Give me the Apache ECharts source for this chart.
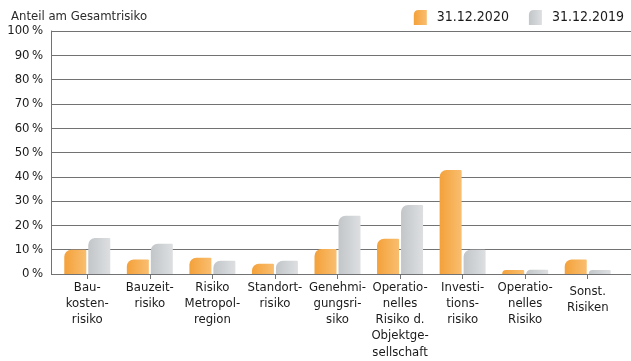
<!DOCTYPE html>
<html><head><meta charset="utf-8">
<script src="https://cdn.jsdelivr.net/npm/echarts@6/dist/echarts.min.js"></script>
<style>html,body{margin:0;padding:0;background:#fff}#c{width:631px;height:361px}</style>
</head><body><div id="c"></div>
<script>
const categories = ['Bau-\nkosten-\nrisiko','Bauzeit-\nrisiko','Risiko\nMetropol-\nregion','Standort-\nrisiko','Genehmi-\ngungsri-\nsiko','Operatio-\nnelles\nRisiko d.\nObjektge-\nsellschaft','Investi-\ntions-\nrisiko','Operatio-\nnelles\nRisiko','Sonst.\nRisiken'];
const values2020 = [10.0, 6.0, 6.7, 4.2, 10.3, 14.5, 42.8, 1.6, 6.0];
const values2019 = [14.8, 12.5, 5.5, 5.5, 24.0, 28.4, 10.0, 1.8, 1.6];
const seriesNames = ['31.12.2020','31.12.2019'];
const yTicks = {min:0, max:100, interval:10};
const titleText = 'Anteil am Gesamtrisiko';

const FONT = "'DejaVu Sans Condensed','Liberation Sans Narrow',sans-serif";
const TXT = '#1a1a1a';
const LINE = '#717274';
const orange = new echarts.graphic.LinearGradient(0,0,1,0,[{offset:0,color:'#F4A13A'},{offset:1,color:'#F9BE6F'}]);
const gray = new echarts.graphic.LinearGradient(0,0,1,0,[{offset:0,color:'#C2C6C9'},{offset:1,color:'#DDDFE1'}]);
const icon = 'path://M0,15 L0,5 Q0,0 5,0 L13,0 L13,15 Z';

const chart = echarts.init(document.getElementById('c'), null, {renderer:'canvas'});
chart.setOption({
  animation:false,
  textStyle:{fontFamily:FONT},
  title:{text:titleText,left:6,top:5,textStyle:{fontFamily:FONT,fontSize:13,fontWeight:'normal',color:'#2b2b2b'}},
  legend:{right:2,top:5,itemWidth:13,itemHeight:15,itemGap:20,icon:icon,
    textStyle:{fontFamily:FONT,fontSize:14,color:TXT,padding:[0,0,0,5]},
    data:seriesNames},
  grid:[
    {left:51,right:0,top:31,bottom:87},
    {left:56,right:12,top:31,bottom:87}
  ],
  xAxis:[
    {gridIndex:0,type:'value',show:false,min:0,max:1},
    {gridIndex:1,type:'category',data:categories,
      axisLine:{show:false},
      axisTick:{show:true,alignWithLabel:true,length:5,lineStyle:{color:LINE}},
      axisLabel:{interval:0,margin:5,fontFamily:FONT,fontSize:13,lineHeight:16.3,color:TXT,verticalAlign:'top',
        formatter:function(v){return v==='Sonst.\nRisiken' ? '{s|'+v.replace('\n','}\n{s|')+'}' : v;},
        rich:{s:{fontFamily:FONT,fontSize:13,lineHeight:16.3,color:TXT,padding:[8,0,0,0]}}}}
  ],
  yAxis:[
    {gridIndex:0,type:'value',min:yTicks.min,max:yTicks.max,interval:yTicks.interval,
      axisLine:{show:true,lineStyle:{color:LINE,width:1}},
      axisTick:{show:false},
      splitLine:{show:true,lineStyle:{color:LINE,width:1}},
      axisLabel:{margin:8,fontFamily:FONT,fontSize:13,color:TXT,formatter:'{value}\u2009%'}},
    {gridIndex:1,type:'value',min:yTicks.min,max:yTicks.max,interval:yTicks.interval,show:false}
  ],
  series:[
    {name:seriesNames[0],type:'bar',xAxisIndex:1,yAxisIndex:1,data:values2020,barWidth:22,barGap:'9%',
      itemStyle:{color:orange,borderRadius:[7,1,0,0]}},
    {name:seriesNames[1],type:'bar',xAxisIndex:1,yAxisIndex:1,data:values2019,barWidth:22,barGap:'9%',
      itemStyle:{color:gray,borderRadius:[7,1,0,0]}}
  ]
});
</script></body></html>
